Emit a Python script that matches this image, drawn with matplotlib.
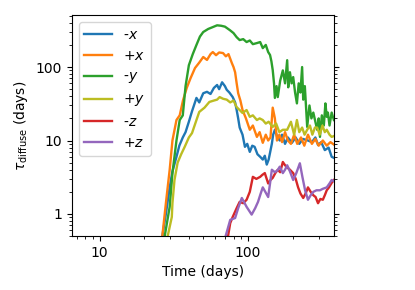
import matplotlib
matplotlib.use("Agg")
import matplotlib.pyplot as plt
from matplotlib.ticker import FormatStrFormatter, NullFormatter

# -----------------------------
# Data (time in days, tau in days)
# -----------------------------
t_mx = [26.5, 28, 29.7, 31, 33, 34.5, 36.4, 38, 40, 42, 45, 47, 50, 53, 56, 59, 62, 64, 67, 70,
        72, 75, 79, 82, 84, 86, 88, 92, 95.5, 99, 103, 107, 111, 116, 121, 126, 130, 134, 138, 141,
        145, 148, 152, 158, 164, 170, 178, 186, 198, 210, 222, 235, 254, 270, 285, 297, 312, 330,
        350, 367, 380]
tau_mx = [0.5, 1.0, 2.3, 3.8, 6, 8.5, 11, 13, 18, 25, 38, 33, 44, 46, 43, 52, 57, 50, 62, 55,
          49, 45, 39, 33, 26, 20, 15, 12, 8.2, 9, 7, 8.5, 8.2, 6.5, 6, 5.5, 6.2, 4.7, 5.5, 6.8,
          9, 12, 14, 11, 10, 12, 9, 11, 9.3, 11, 9, 10.5, 10, 9.5, 11, 8.7, 9.5, 7.4,
          8, 6, 5.8]

t_px = [26.5, 28, 29.7, 31, 33, 34.7, 36.5, 38.7, 41, 44, 47, 50, 53, 56, 58, 61, 64, 68, 71, 74,
        78, 80, 82, 84, 86, 89, 92, 97, 103, 108, 115, 120, 126, 132, 137, 142, 147, 152, 157, 163,
        170, 178, 186, 195, 205, 215, 228, 240, 254, 270, 285, 300, 320, 340, 360, 380]
tau_px = [0.5, 1.4, 4, 10, 19, 22, 35, 52, 70, 97, 115, 137, 125, 150, 160, 145, 158, 155, 140, 150,
          113, 100, 85, 60, 44, 35, 26, 20, 14, 16, 11.2, 13, 9.3, 12, 10, 11, 28, 20, 10, 12,
          9.5, 13, 10, 9, 12, 9, 11, 8.5, 12, 9, 10.5, 8.5, 10, 8.5, 9.5, 8.8]

t_my = [27.5, 29.7, 31, 33, 34.7, 36.4, 38, 40, 42.5, 45, 47.5, 50, 54, 58, 62, 66, 70, 75.6, 80, 84,
        88, 93, 98, 103, 108, 115, 121, 126, 132, 137, 141, 144, 147, 150, 152, 156, 159, 165, 172, 178,
        184, 187, 192, 197, 202, 208, 214, 220, 226, 232, 236, 242, 251, 260, 268, 276, 285, 293, 300, 306,
        315, 325, 333, 340, 346, 355, 367, 380]
tau_my = [0.5, 1.25, 3.6, 10, 19, 22, 55, 106, 150, 200, 260, 300, 330, 350, 370, 365, 355, 318, 290, 255,
          233, 240, 219, 230, 205, 212, 219, 181, 200, 160, 146, 120, 91, 60, 38, 55, 39, 65, 90, 60,
          124, 53, 85, 60, 73, 45, 32, 60, 45, 100, 36, 55, 15.3, 30, 20, 24, 18, 14, 20, 11.2,
          22, 16, 32, 21, 24, 16, 24, 19]

t_py = [28.8, 30.7, 31, 32, 33.6, 35.5, 37.5, 40, 42, 45, 47, 51, 55, 59, 62, 64.5, 68, 72, 76, 80,
        84, 88, 92, 98, 103, 108, 115, 120, 126, 132, 138, 147, 155, 163, 172, 184, 195, 205, 214, 222,
        232, 241, 251, 262, 272, 283, 293, 305, 318, 330, 340, 355, 367, 380]
tau_py = [0.5, 0.91, 1.4, 2.9, 5, 6.5, 8.2, 11, 12.6, 19, 24.5, 28, 33.5, 35, 36, 39, 37, 36, 33, 35,
          28.5, 26, 23.7, 26, 21, 22, 19, 20, 19, 17, 18, 15.3, 17, 13, 14, 14, 18, 12, 19, 13,
          15, 12, 14, 16, 12, 15, 15, 12, 16, 13, 14, 12, 11.2, 11.5]

t_mz = [73.5, 76, 79, 84, 88, 93, 98, 103, 108, 114, 121, 125, 130, 137, 142, 147, 153, 159, 165, 172,
        178, 184, 192, 202, 210, 218, 226, 236, 245, 254, 265, 276, 286, 297, 308, 320, 330, 340, 352, 367, 380]
tau_mz = [0.5, 0.75, 0.91, 1.2, 1.46, 1.4, 1.56, 2.0, 3.2, 3.0, 3.2, 3.4, 3.6, 2.6, 2.9, 3.1, 3.6, 4, 3.7, 5.1,
          4.6, 4.3, 4.0, 3.6, 3.0, 2.3, 1.9, 1.65, 1.9, 2.3, 2.0, 1.8, 1.7, 1.4, 1.6, 1.56, 1.8, 2.1, 2.3, 2.65, 2.9]

t_pz = [71, 76, 82, 86, 91, 98, 106, 112, 117, 122, 126, 131, 137, 141, 145, 152, 158, 164, 172, 178,
        184, 192, 202, 212, 224, 233, 243, 254, 265, 276, 290, 306, 320, 340, 355, 367, 380]
tau_pz = [0.51, 0.83, 0.88, 1.2, 1.65, 1.25, 0.98, 1.2, 1.46, 1.9, 2.3, 2.0, 1.7, 2.6, 4, 3.7, 3.9, 4.4, 3.6, 4.0,
          4.6, 3.8, 2.9, 3.6, 4.9, 3.2, 2.1, 1.56, 1.8, 2.0, 2.1, 2.1, 2.2, 2.3, 2.6, 2.9, 2.8]

series = [
    ("-$x$", t_mx, tau_mx, "tab:blue"),
    ("+$x$", t_px, tau_px, "tab:orange"),
    ("-$y$", t_my, tau_my, "tab:green"),
    ("+$y$", t_py, tau_py, "tab:olive"),
    ("-$z$", t_mz, tau_mz, "tab:red"),
    ("+$z$", t_pz, tau_pz, "tab:purple"),
]

# -----------------------------
# Plot
# -----------------------------
fig = plt.figure(figsize=(4.15, 2.9), dpi=100)
ax = fig.add_axes([0.173, 0.186, 0.632, 0.762])

for label, t, tau, color in series:
    ax.plot(t, tau, color=color, lw=1.7, label=label)

ax.set_xscale("log")
ax.set_yscale("log")
ax.set_xlim(6.5, 381)
ax.set_ylim(0.5, 510)

for axis in (ax.xaxis, ax.yaxis):
    axis.set_major_formatter(FormatStrFormatter("%g"))
    axis.set_minor_formatter(NullFormatter())
ax.tick_params(which="both", right=True)

ax.set_xlabel("Time (days)")
ax.set_ylabel(r"$\tau_{\rm diffuse}$ (days)")
ax.legend(loc="upper left")

plt.savefig("out.png")
